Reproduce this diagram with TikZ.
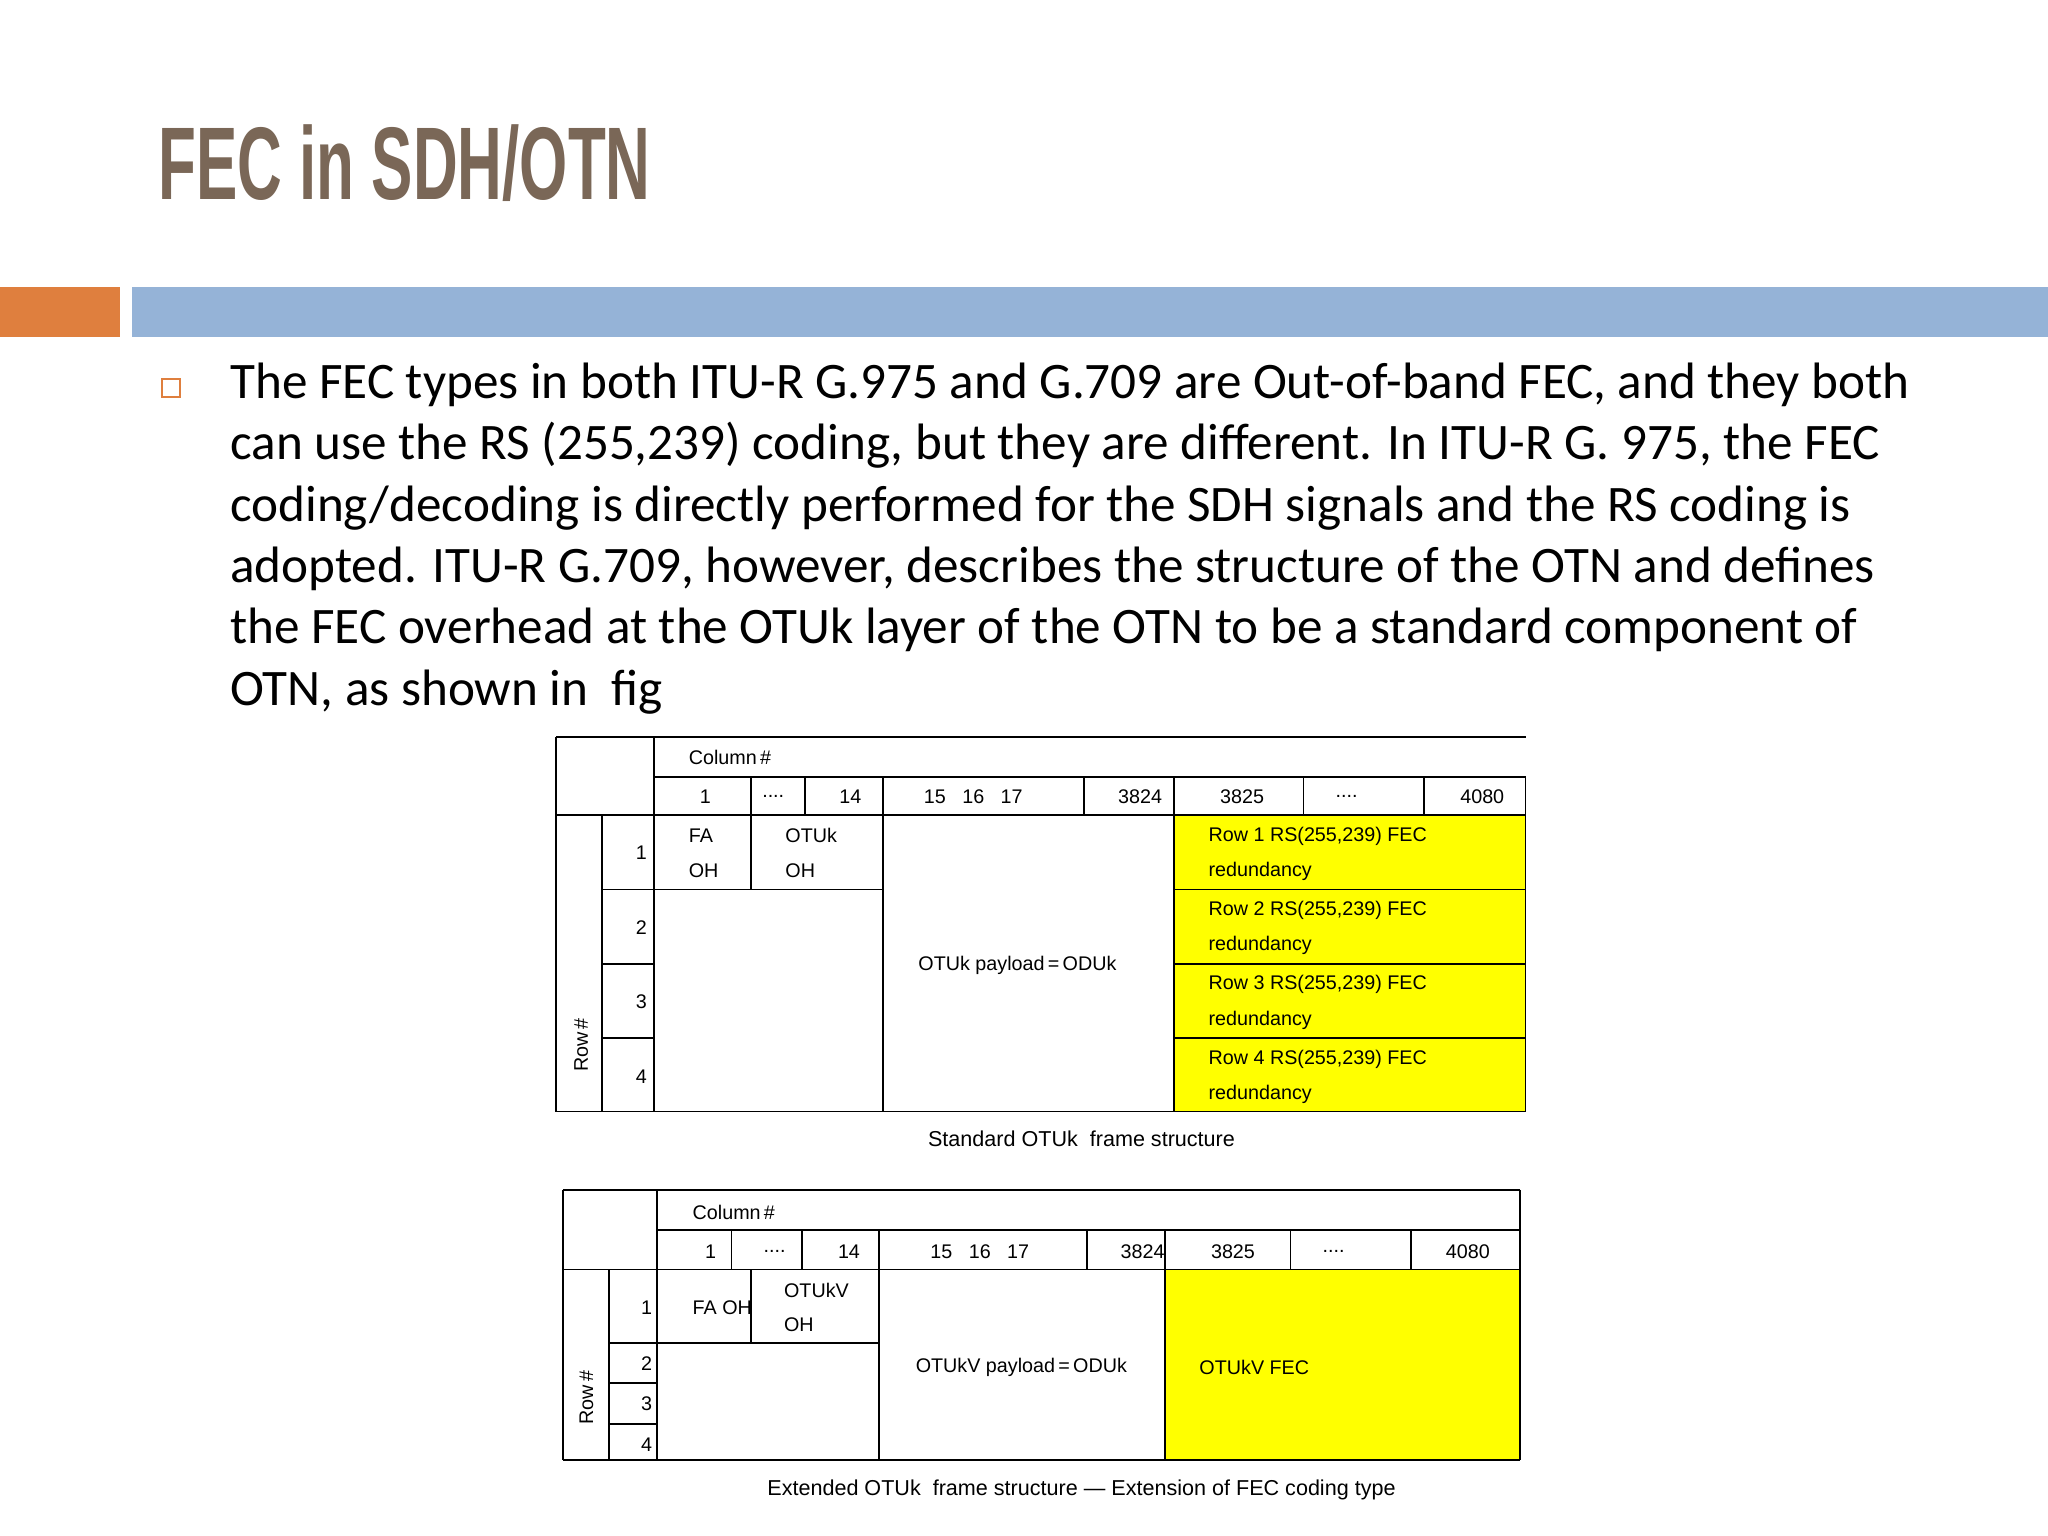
\documentclass[tikz,border=0pt]{standalone}
\usepackage{fontspec}
\setmainfont{Carlito}
\newfontfamily\arialf{Liberation Sans}
\usetikzlibrary{positioning}
\definecolor{titlec}{HTML}{7A6757}
\definecolor{orangec}{HTML}{DF7F3E}
\definecolor{bluec}{HTML}{95B3D7}
\definecolor{yel}{HTML}{FFFF00}
\tikzset{
  body/.style={anchor=base west,inner sep=0pt,font=\fontsize{22.3}{26}\selectfont},
  tt/.style={inner sep=0pt,font=\arialf\fontsize{8.6}{10}\selectfont},
  captxt/.style={inner sep=0pt,font=\arialf\fontsize{9.4}{11}\selectfont},
  tl/.style={line width=0.8pt,black}
}
\begin{document}
\begin{tikzpicture}[x=0.02cm,y=-0.02cm]
\useasboundingbox (0,0) rectangle (1568,1176);
\fill[white] (0,0) rectangle (1568,1176);
% title
\node[anchor=base west,inner sep=0pt,text=titlec] (title) at (121,153)
  {\scalebox{0.6}[1]{\arialf\bfseries\fontsize{45}{50}\selectfont FEC in SDH/OTN}};
% bars
\fill[orangec] (0,220) rectangle (92,258);
\fill[bluec] (101,220) rectangle (1568,258);
% bullet
\draw[orangec,line width=1pt] (124,290) rectangle (138,304);
\node[body] (l1) at (176,305) {The FEC types in both ITU-R G.975 and G.709 are Out-of-band FEC, and they both};
\node[body] (l2) at (176,352) {can use the RS (255,239) coding, but they are different. In ITU-R G. 975, the FEC};
\node[body] (l3) at (176,399) {coding/decoding is directly performed for the SDH signals and the RS coding is};
\node[body] (l4) at (176,446) {adopted. ITU-R G.709, however, describes the structure of the OTN and defines};
\node[body] (l5) at (176,493) {the FEC overhead at the OTUk layer of the OTN to be a standard component of};
\node[body] (l6) at (176,540) {OTN, as shown in\ \ fig};

% ===== Table 1 =====
\fill[yel] (899,624) rectangle (1168,851);
\draw[tl] (426,564) -- (1168,564);
\draw[tl] (501,595) -- (1168,595);
\draw[tl] (426,624) -- (1168,624);
\draw[tl] (426,851) -- (1168,851);
\draw[tl] (426,564) -- (426,851);
\draw[tl] (501,564) -- (501,624);
\draw[tl] (1168,595) -- (1168,851);
\foreach \x in {575,616,676,830,899,998,1090} \draw[tl] (\x,595) -- (\x,624);
\draw[tl] (461,624) -- (461,851);
\draw[tl] (501,624) -- (501,851);
\draw[tl] (575,624) -- (575,681);
\draw[tl] (676,624) -- (676,851);
\draw[tl] (899,624) -- (899,851);
\foreach \y in {681,738,795} {\draw[tl] (461,\y) -- (501,\y); \draw[tl] (899,\y) -- (1168,\y);}
\draw[tl] (501,681) -- (676,681);
\node[tt,anchor=west] (c1) at (527,580) {Column\,\#};
\node[tt] (h1) at (540,610) {1};
\node[tt] (h2) at (592,610) {....};
\node[tt] (h3) at (651,610) {14};
\node[tt,anchor=west] (h4) at (707,610) {15\ \ \ 16\ \ \ 17};
\node[tt,anchor=east] (h5) at (890,610) {3824};
\node[tt] (h6) at (951,610) {3825};
\node[tt] (h7) at (1031,610) {....};
\node[tt,anchor=east] (h8) at (1152,610) {4080};
\foreach \n/\y in {1/653,2/710,3/767,4/824} \node[tt] (r\n) at (491,\y) {\n};
\node[tt,rotate=90] (rowh) at (445,800) {Row\,\#};
\node[tt,anchor=west] (fa1) at (527,640) {FA};
\node[tt,anchor=west] (fa2) at (527,667) {OH};
\node[tt,anchor=west] (ot1) at (601,640) {OTUk};
\node[tt,anchor=west] (ot2) at (601,667) {OH};
\node[tt] (pay) at (779,739) {OTUk payload\,=\,ODUk};
\foreach \n/\y in {1/624,2/681,3/738,4/795} {
  \node[tt,anchor=west] (f\n a) at (925,\y+16) {Row \n\ RS(255,239) FEC};
  \node[tt,anchor=west] (f\n b) at (925,\y+43) {redundancy};
}
\node[captxt] (cap1) at (828,872) {Standard OTUk\ \ frame structure};

% ===== Table 2 =====
\fill[yel] (892,972) rectangle (1164,1118);
\draw[tl] (431,911) -- (1164,911);
\draw[tl] (503,942) -- (1164,942);
\draw[tl] (431,972) -- (1164,972);
\draw[tl] (431,1118) -- (1164,1118);
\draw[tl] (431,911) -- (431,1118);
\draw[tl] (503,911) -- (503,972);
\draw[tl] (1164,911) -- (1164,1118);
\foreach \x in {560,614,673,832,892,988,1080} \draw[tl] (\x,942) -- (\x,972);
\draw[tl] (466,972) -- (466,1118);
\draw[tl] (503,972) -- (503,1118);
\draw[tl] (575,972) -- (575,1028);
\draw[tl] (673,972) -- (673,1118);
\draw[tl] (892,972) -- (892,1118);
\foreach \y in {1028,1059,1090} \draw[tl] (466,\y) -- (503,\y);
\draw[tl] (503,1028) -- (673,1028);
\node[tt,anchor=west] (d1) at (530,928) {Column\,\#};
\node[tt] (g1) at (544,958) {1};
\node[tt] (g2) at (593,958) {....};
\node[tt] (g3) at (650,958) {14};
\node[tt,anchor=west] (g4) at (712,958) {15\ \ \ 16\ \ \ 17};
\node[tt,anchor=east] (g5) at (892,958) {3824};
\node[tt] (g6) at (944,958) {3825};
\node[tt] (g7) at (1021,958) {....};
\node[tt,anchor=east] (g8) at (1141,958) {4080};
\node[tt] (s1) at (495,1001) {1};
\node[tt] (s2) at (495,1044) {2};
\node[tt] (s3) at (495,1075) {3};
\node[tt] (s4) at (495,1106) {4};
\node[tt,rotate=90] (rowh2) at (449,1070) {Row\,\#};
\node[tt,anchor=west] (fo) at (530,1001) {FA OH};
\node[tt,anchor=west] (ov1) at (600,988) {OTUkV};
\node[tt,anchor=west] (ov2) at (600,1014) {OH};
\node[tt] (pay2) at (782,1047) {OTUkV payload\,=\,ODUk};
\node[tt,anchor=west] (fec2) at (918,1047) {OTUkV FEC};
\node[captxt] (cap2) at (828,1141) {Extended OTUk\ \ frame structure — Extension of FEC coding type};
\end{tikzpicture}
\end{document}
